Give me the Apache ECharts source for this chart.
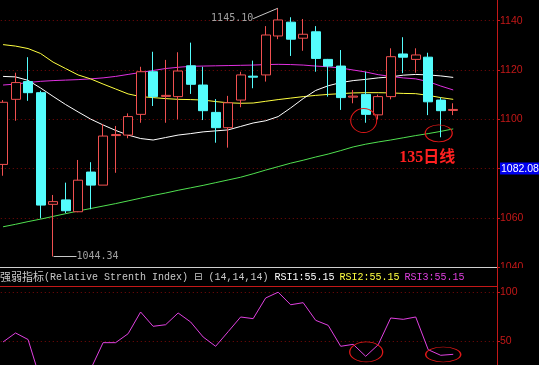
<!DOCTYPE html>
<html><head><meta charset="utf-8">
<script src="https://cdn.jsdelivr.net/npm/echarts@6/dist/echarts.min.js"></script>
<style>html,body{margin:0;padding:0;background:#000;}#c{width:539px;height:365px;}</style>
</head><body><div id="c"></div>
<script>
const categories = [1,2,3,4,5,6,7,8,9,10,11,12,13,14,15,16,17,18,19,20,21,22,23,24,25,26,27,28,29,30,31,32,33,34,35,36,37,38,39,40];
const opens  = [1081.7,1108.1,1115.3,1110.8,1065.5,1067.3,1062.5,1078.6,1073.3,1093.4,1093.6,1102.0,1119.3,1109.3,1109.2,1121.7,1113.9,1102.8,1096.6,1107.8,1117.5,1118.0,1133.8,1139.4,1132.9,1135.5,1124.3,1121.6,1109.0,1110.1,1101.8,1109.2,1126.5,1124.3,1125.2,1107.8,1103.6];
const closes = [1106.9,1114.9,1110.8,1065.2,1066.6,1062.9,1075.3,1073.3,1093.2,1093.8,1101.1,1119.3,1109.2,1109.7,1119.6,1114.2,1103.5,1096.6,1106.7,1118.0,1117.1,1134.2,1140.3,1132.5,1134.5,1124.7,1121.6,1108.8,1109.4,1102.0,1109.2,1125.4,1125.2,1126.1,1107.1,1103.5,1104.0];
const lows   = [1077.1,1099.4,1107.5,1059.8,1044.34,1061.9,1062.3,1063.5,1073.3,1078.3,1092.3,1098.6,1105.4,1098.6,1100.0,1110.3,1099.7,1090.5,1088.5,1104.9,1112.6,1115.3,1132.5,1125.7,1127.8,1119.3,1109.2,1103.8,1106.5,1098.6,1100.0,1108.1,1118.7,1118.9,1101.7,1092.7,1101.7];
const highs  = [1107.8,1118.9,1125.2,1111.6,1069.3,1074.3,1083.5,1082.6,1098.1,1097.3,1102.4,1121.3,1127.4,1124.1,1127.2,1131.1,1121.3,1108.2,1109.5,1119.3,1123.8,1137.8,1145.1,1141.4,1140.7,1137.8,1124.5,1128.1,1111.9,1119.3,1110.0,1128.8,1133.3,1128.8,1127.0,1108.9,1106.5];
const maWhite   = [1117.4,1117.2,1115.8,1112.7,1109.3,1106.0,1103.0,1100.1,1097.7,1095.5,1093.6,1092.2,1091.6,1092.6,1093.6,1094.2,1094.9,1095.3,1095.7,1097.1,1098.5,1099.4,1101.1,1104.6,1108.4,1111.7,1113.6,1114.9,1115.7,1116.2,1116.8,1117.2,1117.9,1118.2,1118.0,1117.6,1117.0];
const maYellow  = [1130.3,1129.7,1128.7,1126.7,1123.2,1120.6,1118.0,1116.4,1114.3,1112.3,1110.3,1109.2,1108.8,1108.4,1108.1,1108.0,1107.8,1107.2,1106.7,1106.5,1106.6,1107.3,1108.0,1108.6,1109.2,1109.7,1110.1,1110.4,1110.7,1110.8,1110.8,1110.7,1110.5,1110.4,1109.7,1108.8,1108.1];
const maMagenta = [1113.9,1114.3,1114.9,1115.4,1115.7,1115.9,1116.1,1116.4,1116.8,1117.4,1118.2,1119.0,1119.8,1120.6,1121.1,1121.5,1121.6,1121.7,1121.8,1121.9,1122.0,1122.2,1122.3,1122.2,1122.0,1121.6,1121.3,1120.8,1120.0,1119.2,1118.1,1117.4,1116.8,1116.4,1115.3,1113.5,1111.9];
const ma135     = [1056.4,1057.4,1058.5,1059.5,1060.6,1061.7,1062.8,1063.8,1064.8,1065.8,1066.9,1068.0,1069.1,1070.1,1071.2,1072.2,1073.2,1074.3,1075.4,1076.5,1077.9,1079.4,1080.8,1082.2,1083.4,1084.7,1085.9,1087.3,1088.8,1089.9,1090.8,1091.6,1092.5,1093.4,1094.2,1095.1,1096.1];
const rsi       = [49.0,58.2,51.5,10,9,8,14,21,48.3,48.3,57.4,79.6,65.0,66.6,78.6,69.4,54.1,44.6,59.5,74.5,72.8,93.9,99.8,87.0,89.1,71.1,66.0,44.6,46.6,34.4,46.2,73.5,72.1,74.5,41.1,35.4,36.4];
const priceTicks = [1040,1060,1080,1100,1120,1140];
const rsiTicks = [50,100];
const lastPrice = '1082.08';
const highNote = [22, 1145.10];
const lowNote = [4, 1044.34];

const RED = '#f05050', CYAN = '#54fcfc', AXIS = '#c41818', GRID = '#7a0a0a';
const candles = opens.map((o,i)=>[o, closes[i], lows[i], highs[i]]);

const chart = echarts.init(document.getElementById('c'), null, {renderer:'canvas'});
const ringStyle = {color:'rgba(0,0,0,0)', borderColor:'#e01818', borderWidth:1};
const mono = {fontFamily:"'Liberation Mono'", fontSize:10, fontWeight:'normal', lineHeight:13};
chart.setOption({
  backgroundColor:'#000',
  animation:false,
  title:{
    left:0, top:268, padding:0, z:100,
    text:'{c|强弱指标}{g|(Relative Strenth Index) }{b|⊟}{g| (14,14,14) }{w|RSI1:55.15} {y|RSI2:55.15} {m|RSI3:55.15}',
    textStyle:{fontWeight:'normal', rich:{
      c:{fontFamily:"'Noto Sans CJK SC'",fontSize:11,fontWeight:'normal',color:'#c8c8c8',lineHeight:13},
      g:Object.assign({color:'#c8c8c8'}, mono),
      b:{fontFamily:"'DejaVu Sans'",fontSize:10,fontWeight:'normal',color:'#c8c8c8',lineHeight:13},
      w:Object.assign({color:'#ffffff'}, mono),
      y:Object.assign({color:'#ffff40'}, mono),
      m:Object.assign({color:'#e040e0'}, mono)
    }}
  },
  grid:[
    {left:-3.2, right:42, top:-28.6, height:295.8, outerBoundsMode:'none', containLabel:false},
    {left:-3.2, right:42, top:292, height:98, outerBoundsMode:'none', containLabel:false}
  ],
  xAxis:[
    {type:'category', data:categories, gridIndex:0, boundaryGap:true, show:false},
    {type:'category', data:categories, gridIndex:1, boundaryGap:true, show:false}
  ],
  yAxis:[
    {type:'value', gridIndex:0, position:'right', min:1040, max:1160, interval:20,
     axisLine:{show:true, lineStyle:{color:AXIS}},
     axisTick:{show:true, length:3, lineStyle:{color:AXIS}},
     axisLabel:{color:AXIS, fontFamily:"'Liberation Sans'", fontSize:10.5, margin:3,
       formatter:v=> priceTicks.includes(v) ? (v===1080 ? '{hl|'+lastPrice+'}' : String(v)) : '',
       rich:{hl:{backgroundColor:'#0000ee', color:'#ffffff', fontFamily:"'Liberation Sans'", fontSize:10.5, padding:[1,1,0,1]}}},
     splitLine:{show:true, lineStyle:{color:GRID, type:[1,3]}}},
    {type:'value', gridIndex:1, position:'right', min:0, max:100, interval:50,
     axisLine:{show:true, lineStyle:{color:AXIS}},
     axisTick:{show:true, length:3, lineStyle:{color:AXIS}},
     axisLabel:{color:AXIS, fontFamily:"'Liberation Sans'", fontSize:10.5, margin:3,
       formatter:v=> rsiTicks.includes(v) ? String(v) : ''},
     splitLine:{show:true, lineStyle:{color:GRID, type:[1,3]}}}
  ],
  series:[
    {type:'line', name:'MA3', xAxisIndex:0, yAxisIndex:0, data:maMagenta, showSymbol:false, lineStyle:{color:'#e030e0', width:1}, z:2},
    {type:'line', name:'MA2', xAxisIndex:0, yAxisIndex:0, data:maYellow, showSymbol:false, lineStyle:{color:'#ffff40', width:1}, z:2},
    {type:'line', name:'MA1', xAxisIndex:0, yAxisIndex:0, data:maWhite, showSymbol:false, lineStyle:{color:'#ffffff', width:1}, z:2},
    {type:'line', name:'MA135', xAxisIndex:0, yAxisIndex:0, data:ma135, showSymbol:false, lineStyle:{color:'#50e050', width:1}, z:2,
     markPoint:{symbol:'circle', silent:true, data:[
       {coord:[29,1099.5], symbolSize:[26,24], symbolOffset:[-2,0], itemStyle:ringStyle, label:{show:false}},
       {coord:[35,1094.3], symbolSize:[27,17], symbolOffset:[-2,0], itemStyle:ringStyle, label:{show:false}},
       {coord:[34,1084.5], symbolSize:1, itemStyle:{color:'rgba(0,0,0,0)'},
        label:{show:true, position:'inside', formatter:'135日线', color:'#ff2020', fontSize:16, fontWeight:'bold', fontFamily:"'Liberation Serif','Noto Sans CJK SC'", offset:[-1,0]}}
     ]}},
    {type:'candlestick', xAxisIndex:0, yAxisIndex:0, data:candles, barWidth:9.6, z:3,
     itemStyle:{color:'#000', color0:CYAN, borderColor:RED, borderColor0:CYAN, borderWidth:1}},
    {type:'scatter', xAxisIndex:0, yAxisIndex:0, data:[highNote, lowNote], symbolSize:1, z:5,
     itemStyle:{color:'rgba(0,0,0,0)'},
     label:{show:true, position:'inside', formatter:p=>p.value[1].toFixed(2), color:'#c8c8c8', fontFamily:"'DejaVu Sans Mono'", fontSize:10},
     labelLayout:p=> p.dataIndex===0 ? {dx:-46, dy:10.5} : {dx:44.5, dy:0},
     labelLine:{show:true, lineStyle:{color:'#c8c8c8', width:1}}},
    {type:'line', name:'RSI', xAxisIndex:1, yAxisIndex:1, data:rsi, showSymbol:false, lineStyle:{color:'#e040e0', width:1},
     markPoint:{symbol:'circle', silent:true, data:[
       {coord:[29,38.8], symbolSize:[33,20], symbolOffset:[0.5,0], itemStyle:ringStyle, label:{show:false}},
       {coord:[35,36.2], symbolSize:[35,15], symbolOffset:[2.5,0], itemStyle:ringStyle, label:{show:false}}
     ]}}
  ],
  graphic:[
    {type:'rect', z:50, shape:{x:0, y:268, width:539, height:19}, style:{fill:'#000'}},
    {type:'line', z:51, shape:{x1:0, y1:267.5, x2:497, y2:267.5}, style:{stroke:'#d0d0d0', lineWidth:1}},
    {type:'line', z:51, shape:{x1:0, y1:286.5, x2:497, y2:286.5}, style:{stroke:AXIS, lineWidth:1}},
    {type:'line', z:51, shape:{x1:497.5, y1:266, x2:497.5, y2:293}, style:{stroke:AXIS, lineWidth:1}}
  ]
});
</script></body></html>
